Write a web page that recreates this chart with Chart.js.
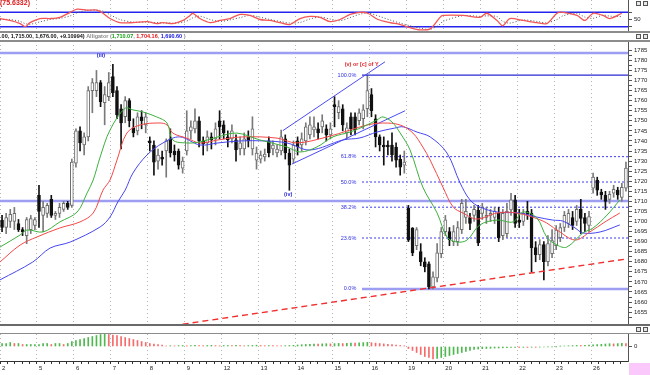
<!DOCTYPE html>
<html>
<head>
<meta charset="utf-8">
<script src="https://cdn.jsdelivr.net/npm/chart.js@4.4.0/dist/chart.umd.min.js"></script>
<style>
  html, body { margin: 0; padding: 0; background: #fff; }
  body { width: 650px; height: 375px; position: relative; overflow: hidden; }
  canvas { position: absolute; left: 0; }
  .sep { position: absolute; left: 0; width: 650px; background: #8c8c8c; }
  .btn { position: absolute; width: 5px; height: 5px; border: 1px solid #555; background: #e8e8e8; box-sizing: border-box; }
</style>
</head>
<body>
<canvas id="osc" width="650" height="32" style="top:0"></canvas>
<canvas id="main" width="650" height="292" style="top:32px"></canvas>
<canvas id="hist" width="650" height="41" style="top:334px"></canvas>

<div class="sep" style="top:31px;height:1.5px"></div>
<div class="sep" style="top:40px;height:1.5px"></div>
<div class="sep" style="top:324px;height:2px;background:#6a6a6a"></div>
<div class="sep" style="top:332.5px;height:1.5px"></div>

<div class="btn" style="left:636px;top:1px"></div><div class="btn" style="left:643px;top:1px"></div>
<div class="btn" style="left:636px;top:34px"></div><div class="btn" style="left:643px;top:34px"></div>
<div class="btn" style="left:636px;top:327px"></div><div class="btn" style="left:643px;top:327px"></div>
<div style="position:absolute;left:629px;top:363px;width:21px;height:12px;background:#fbc8fb"></div>

<script>
Chart.defaults.font.family = "'Liberation Sans', Arial, sans-serif";
Chart.defaults.font.size = 6;
Chart.defaults.animation = false;

// days on the time axis, 9 bars each
const dayLabels = ['2','5','6','7','8','9','12','13','14','15','16','19','20','21','22','23','26'];
const barsPerDay = 9;

const opens = [1700.7,1697,1700,1700,1699,1696,1693,1696,1698, 1713,1703,1704,1711,1703,1704,1706,1709,1708,
  1729,1745,1738,1742,1765,1765,1769,1759,1762, 1772,1765,1756,1752,1760,1746.5,1745,1752,1748,
  1740,1738,1730,1732,1735,1741,1735,1735,1726.5, 1735,1745,1746,1750,1740,1739,1742,1741,1750,
  1748,1742,1741,1740.5,1736,1736,1742,1736,1730.5, 1731,1732,1740,1736,1734,1735,1741,1734,1731,
  1740,1738,1740,1743,1745.5,1746,1747,1746,1743, 1758,1754,1756,1744,1752,1752,1750,1751,1756,
  1763,1751,1742,1738,1738,1738,1737,1731,1728, 1706.6,1696.7,1688,1685,1680,1679,1667.5,1672,1684,
  1695,1695,1690,1690,1696,1702,1702,1703,1705.7, 1704,1702,1703,1702,1704,1693,1694,1705.7,1710.7,
  1700.7,1700,1705,1704,1687,1683.5,1688.5,1680,1684, 1688,1692,1697,1699,1702,1700,1706,1702,1698,
  1716.6,1720.6,1714.6,1713,1711,1714,1715.6,1712,1716.6];
const highs = [1703,1704,1706,1707,1701,1697,1702,1703,1702, 1718,1710,1709,1713,1705,1709,1710,1710,1731,
  1746,1747,1744,1767,1771,1775,1770,1767,1774, 1778,1767,1758,1762,1761,1751,1754,1755,1754,
  1742,1740,1736,1735,1741,1746,1738,1736,1732, 1755,1750,1756,1752,1742,1745,1744,1749,1755,
  1750,1745,1748,1743,1742,1744,1745,1752,1737, 1735,1736,1742,1740,1738,1745.4,1743,1736,1740,
  1742,1744,1749,1752,1752,1749,1753,1748,1749, 1762,1760,1758,1749,1754,1754,1756,1758,1772.7,
  1766,1753,1743,1742,1740,1744,1739,1733,1735, 1708,1697,1697,1689,1682,1680,1675,1689,1697,
  1703,1697,1698,1700,1711,1711,1704,1708,1708, 1709,1707,1706,1707,1707,1706,1709,1714,1713,
  1706,1706,1710,1706,1690,1691,1690,1693,1696, 1698,1699,1705,1706,1705,1708,1711,1704,1705,
  1724,1722,1716,1715,1715,1718,1717,1719,1729.5];
const lows = [1695,1694,1697,1696,1695,1693,1689,1694,1696, 1697,1695,1702,1702,1701,1702,1705,1706,1707,
  1727,1735,1733,1740,1754,1762,1757,1748,1760, 1762,1751,1736,1749,1747,1742,1743,1746,1744,
  1735,1723,1726,1728,1722,1732,1730,1726,1724, 1733,1741,1744,1737,1733,1735,1736,1738,1741,
  1741,1737,1739,1730,1733,1733,1737,1733,1726, 1729,1730,1732,1733,1732,1733,1731,1715.5,1729,
  1733,1735,1738,1741,1742,1741,1744,1740,1741, 1747,1751,1745,1741,1743,1743,1748,1746,1752,
  1752,1737,1735,1728,1733,1730,1727,1723,1724, 1690,1683,1686,1678,1675,1666.5,1666.5,1670,1682,
  1693,1688,1688,1688,1694,1699,1696,1700,1688, 1701,1699,1700,1699,1690,1691,1692,1703,1697,
  1697,1698,1701,1675,1680,1681,1671,1678,1682, 1686,1690,1695,1697,1696,1698,1694,1695,1695,
  1714,1713,1711,1706,1709,1712,1711,1710,1715];
const closes = [1697,1702,1703.5,1704,1696,1695,1701,1701.5,1701, 1705,1707,1708,1703,1704,1707,1709,1707,1729.5,
  1745,1739,1742,1765,1769,1769,1759.5,1763,1769, 1764,1753,1749,1760,1750,1744,1752,1750,1752,
  1739,1729.5,1733,1731,1740,1734,1733,1728,1730, 1745,1747,1750,1740,1738.5,1742,1740.5,1746,1747,
  1744,1740.5,1745,1735.5,1739,1741,1740,1746,1734, 1733,1733.5,1734,1738,1736,1742,1734,1728,1738,
  1737,1741,1747,1748,1747,1744,1750,1743,1746, 1757,1757,1748,1746.5,1746,1745.5,1754,1755.5,1765,
  1755,1742,1738,1737,1737,1733,1730.5,1727,1729.5, 1690.7,1684.4,1696,1680,1677.5,1667.5,1672.5,1684.5,1695,
  1700.8,1691,1695,1697,1709,1705,1699,1706,1689.4, 1707,1703,1704,1705,1692,1704,1705,1710.7,1699,
  1699.5,1704,1703.5,1687,1683.5,1688.5,1680,1689,1690.5, 1695.7,1697,1703,1704,1698,1706,1701.5,1699,1702.5,
  1722,1715.6,1713.2,1710,1713.5,1716,1713.2,1717,1726.5];

// alligator lines, [bar, price]
const lips = [[-0.5,1687.3],[4.4,1693.3],[6.1,1695.8],[10,1694.8],[14.1,1699.8],[18.3,1704.7],[20.7,1714.1],
  [22.2,1720.6],[23.9,1732],[26.3,1745.4],[30,1756.3],[31.9,1755.4],[34.3,1754.4],[37.7,1751.9],[40.2,1748.9],
  [41.6,1740.5],[45,1739],[48.2,1739.5],[52.6,1742],[57.2,1743.9],[62.8,1740.5],[69.4,1737],[72.6,1734.5],
  [76.7,1737],[80.6,1742],[84.8,1744.4],[88.9,1747.9],[91.3,1750.4],[92.8,1751.9],[95,1749.4],[97,1743.9],
  [99.4,1735.5],[102.5,1717.1],[106,1704.2],[108.4,1692.3],[110.8,1689.8],[113.3,1690.8],[116.4,1698.3],
  [120.6,1700.7],[124.5,1699.8],[126.9,1704.7],[130.3,1701.7],[132.7,1692.3],[135.2,1688.3],[137.6,1687.3],
  [141.5,1694.3],[144,1696.8],[147.4,1703.2],[150.5,1710.7]];
const teeth = [[-0.5,1679.9],[4.4,1688.3],[8.5,1692.3],[14.1,1696.8],[19,1699.8],[22.2,1704.2],[24.6,1715.6],
  [26.3,1720.6],[28,1730.5],[30.4,1743.9],[33.6,1747.9],[38.5,1748.9],[40.2,1747.9],[41.6,1743.9],[45,1741.4],
  [48.2,1739],[52.6,1740.5],[58.7,1742],[67,1741.4],[71.8,1739],[79.2,1742],[84.8,1745.4],[88.9,1747.9],
  [92.8,1748.9],[97,1747.9],[100.1,1743.9],[102.5,1737],[104.3,1730.5],[107.4,1717.1],[109.9,1707.2],
  [112.3,1704.2],[115.7,1701.2],[120.6,1704.2],[125.4,1704.2],[131.8,1700.2],[135.2,1695.8],[139.6,1690.8],
  [143.2,1694.8],[146.9,1699.8],[150.5,1704.2]];
const jaw = [[-0.5,1671],[7.5,1679.9],[11.7,1686.8],[16.6,1689.8],[23.9,1697.3],[26.3,1702.2],[28.2,1709.7],
  [30,1715.6],[31.9,1724.1],[35.3,1733],[39.2,1739],[43.3,1742],[48.2,1738],[52.6,1739],[58,1740],[64,1740],
  [69.4,1739],[75,1735.5],[83.1,1740.5],[87.2,1741.5],[91.3,1744.4],[95.7,1746.4],[97.7,1747],[101.1,1744.4],
  [104.3,1742],[108.4,1734],[111.6,1719.1],[114,1710.7],[116.4,1707.2],[120.6,1704.7],[126.2,1704.2],
  [130.3,1702.2],[134.2,1700.7],[136.6,1700.2],[139.6,1696.8],[141.5,1694.3],[145.7,1694.8],[150.5,1698.3]];

const channelUpper = [[68.4,1745.1],[93.3,1779.3]];
const channelLower = [[70.6,1728.5],[98.2,1755]];
const trendLine = [[44,1649],[152.5,1681.5]];
const supportLines = [1783.7, 1710.2];

const fibLabels = ['100.0%','61.8%','50.0%','38.2%','23.6%','0.0%'];
const fibPrices = [1772.7, 1732.2, 1719.6, 1707.1, 1691.8, 1666.5];
const fibStart = 87.7;
const fibLabelAt = 86.3;

const waveNotes = [
  { text: '(iii)', x: 24.1, y: 1782.2, color: '#2727d8' },
  { text: '(iv)', x: 69.7, y: 1713.2, color: '#2727d8' },
  { text: '(v) or [c] of Y', x: 87.6, y: 1778, color: '#e42424' }
];

const priceLabels = [1785,1780,1775,1770,1765,1760,1755,1750,1745,1740,1735,1730,1725,1720,1715,1710,
  1705,1700,1695,1690,1685,1680,1675,1670,1665,1660,1655];

// oscillator (top pane), [bar, value]
const oscMain = [[-0.5,54],[1.9,46],[4.4,33],[5.6,20],[6.8,37],[9.2,54],[11.7,54],[14.1,59],[16.6,80],[18.3,93],
  [20.7,89],[23.1,89],[24.6,76],[26.3,54],[28.7,37],[31.9,37],[35.3,41],[37.7,33],[39.2,37],[41.6,33],[44.1,46],
  [45.8,67],[46.5,76],[48.2,54],[50.7,37],[53.1,46],[55.5,54],[58,71],[60.4,67],[62.8,50],[65.3,46],[67.7,37],
  [70.1,29],[72.6,54],[75,63],[77.5,59],[79.9,41],[82.3,50],[84.8,71],[87.2,80],[89.1,76],[91.6,50],[94.5,37],
  [97,29],[99.4,16],[101.8,7],[104.3,11],[106.7,59],[107.4,67],[112.3,67],[116.4,59],[118.1,76],[120.6,46],
  [122,24],[123.7,54],[126.9,46],[130.3,37],[132.7,33],[135.2,76],[136.6,80],[140.1,67],[142,46],[144,76],
  [146.4,67],[148.1,54],[151,76]];
const oscSignal = [[-0.5,50],[1.9,50],[4.4,42],[5.6,33],[6.8,30],[9.2,40],[11.7,50],[14.1,55],[16.6,65],[18.3,78],
  [20.7,88],[23.1,89],[24.6,85],[26.3,70],[28.7,50],[31.9,39],[35.3,39],[37.7,37],[39.2,36],[41.6,35],[44.1,38],
  [45.8,50],[46.5,57],[48.2,64],[50.7,50],[53.1,42],[55.5,48],[58,58],[60.4,67],[62.8,60],[65.3,50],[67.7,42],
  [70.1,35],[72.6,38],[75,52],[77.5,60],[79.9,52],[82.3,45],[84.8,58],[87.2,72],[89.1,77],[91.6,65],[94.5,48],
  [97,35],[99.4,24],[101.8,14],[104.3,9],[106.7,30],[107.4,42],[112.3,66],[116.4,63],[118.1,65],[120.6,62],
  [122,42],[123.7,35],[126.9,48],[130.3,42],[132.7,36],[135.2,50],[136.6,65],[140.1,76],[142,60],[144,55],
  [146.4,68],[148.1,64],[151,62]];
const oscLevels = [80, 20];
const oscLabels = [50];

// histogram (bottom pane), one per bar
const histValues = [3,3,4,3,3,2,2,2,2,2,3,3,2,3,3,2,3,
  5,6,7,8,9,10,11,12,12.3,
  12,11.5,11,10,9,8,7,6,5,4,3,
  2.5,2,1.5,
  0.5,0.8,0.6,0.9,1,0.7,0.9,1.2,1,0.8,1,1.2,0.9,0.7,1,
  1,0.8,1.1,0.9,0.7,0.9,1.1,1.3,1,0.8,1,0.9,0.7,0.6,0.8,1,1.2,1.5,1.8,2,2.2,
  2.5,2.3,2.6,2.8,2.6,2.9,3.1,2.9,3.2,3.5,3.3,3.6,3.9,4.2,
  3.8,3.4,3,2.6,2.2,1.8,1.4,1,0.7,
  -2,-4,-6,-8,-10,-11,-12.5,
  -12,-11,-10,-9,-8,-7,-6,-5,-4,-3,
  -2.5,-2.2,-2,-1.8,-1.6,-1.5,-1.3,-1.1,-1,-0.9,-1,-0.8,-0.9,-0.7,-0.8,
  -0.6,-0.5,-0.4,-0.3,-0.2,0.3,0.5,0.7,0.9,1.1,1,1.2,1.4,1.6,1.9,
  2.2,2.5,2.8,2.6,2.9,3.1,2.8];
const histLabels = [0];

const lastBar = opens.length - 0.5;
const pts = arr => arr.map(([x, y]) => ({ x, y }));
const flat = (y, from) => [{ x: from, y }, { x: lastBar, y }];
const isUp = i => closes[i] >= opens[i];
const isDay = v => Number.isInteger((v + 0.5) / barsPerDay);

function timeAxis() {
  return {
    type: 'linear', min: -0.5, max: lastBar, offset: false,
    grid: { color: '#b4b4b4', drawTicks: false, offset: false },
    border: { display: false, dash: [1, 3] },
    ticks: { display: false },
    afterBuildTicks: s => { s.ticks = dayLabels.map((d, k) => ({ value: k * barsPerDay - 0.5 })); },
    afterFit: s => { s.height = 0; s.paddingLeft = 0; s.paddingRight = 0; }
  };
}

function valueAxis(min, max, tickValues, labels) {
  return {
    position: 'right', min, max,
    grid: { drawOnChartArea: false, tickLength: 4, tickColor: '#555' },
    border: { color: '#555', width: 1 },
    ticks: { autoSkip: false, padding: 2, color: '#222', font: { size: 6 },
      callback: v => labels.includes(v) ? String(v) : '' },
    afterBuildTicks: s => { s.ticks = tickValues.map(v => ({ value: v })); },
    afterFit: s => { s.width = 22; s.paddingTop = 0; s.paddingBottom = 0; }
  };
}

const common = {
  responsive: false, animation: false, events: [],
  plugins: { legend: { display: false }, tooltip: { enabled: false } }
};

// ---- top oscillator
const oscText = {
  id: 'oscText',
  afterDraw(chart) {
    const ctx = chart.ctx;
    ctx.save();
    ctx.font = "bold 7px 'Liberation Sans'";
    ctx.fillStyle = '#e01818';
    ctx.textBaseline = 'top';
    ctx.fillText('(75.6332)', 0, 0);
    ctx.restore();
  }
};

new Chart(document.getElementById('osc'), {
  type: 'line',
  data: { datasets: [
    { data: pts(oscMain), borderColor: '#f25656', borderWidth: 1.3, pointRadius: 0, tension: 0.3, order: 1 },
    { data: pts(oscSignal), borderColor: '#555', borderWidth: 1, borderDash: [1, 2], pointRadius: 0, tension: 0.3, order: 2 },
    ...oscLevels.map(v => ({ data: flat(v, -0.5), borderColor: '#2424ee', borderWidth: 1.5, pointRadius: 0, order: 3 }))
  ] },
  options: { ...common,
    scales: { x: timeAxis(), y: valueAxis(-2.1, 131.25, [20, 50, 80], oscLabels) } },
  plugins: [oscText]
});

// ---- main price pane
const headerParts = [
  ['9.00, 1,715.00, 1,676.00, +9.10994) ', '#111'],
  ['Alligator (', '#8a8a8a'],
  ['1,710.07', '#14a014'],
  [', ', '#8a8a8a'],
  ['1,704.16', '#e41414'],
  [', ', '#8a8a8a'],
  ['1,690.60', '#1414e0'],
  [' )', '#8a8a8a']
];

const mainText = {
  id: 'mainText',
  afterDraw(chart) {
    const { ctx, scales: { x, y } } = chart;
    ctx.save();
    ctx.textBaseline = 'middle';

    ctx.font = "bold 5.5px 'Liberation Sans'";
    let px = -3;
    headerParts.forEach(([t, c]) => { ctx.fillStyle = c; ctx.fillText(t, px, 4.5); px += ctx.measureText(t).width; });

    ctx.font = "5.5px 'Liberation Sans'";
    ctx.textAlign = 'right';
    ctx.fillStyle = '#3030e6';
    fibLabels.forEach((t, k) => ctx.fillText(t, x.getPixelForValue(fibLabelAt), y.getPixelForValue(fibPrices[k])));

    ctx.textAlign = 'center';
    ctx.font = "bold 5.5px 'Liberation Sans'";
    waveNotes.forEach(n => { ctx.fillStyle = n.color; ctx.fillText(n.text, x.getPixelForValue(n.x), y.getPixelForValue(n.y)); });
    ctx.restore();
  }
};

const priceTicks = priceLabels.concat(priceLabels.map(v => v - 2.5));

const fibSets = fibPrices.map((p, k) => {
  if (k === 0) return { type: 'line', data: flat(p, fibStart), borderColor: '#2a2ad2', borderWidth: 1.2, pointRadius: 0, order: 4 };
  if (k === fibPrices.length - 1) return { type: 'line', data: flat(p, fibStart), borderColor: '#9d9df2', borderWidth: 2.5, pointRadius: 0, order: 11 };
  return { type: 'line', data: flat(p, fibStart), borderColor: '#3a3af0', borderWidth: 1, borderDash: [2, 2], pointRadius: 0, order: 10 };
});

new Chart(document.getElementById('main'), {
  type: 'bar',
  data: { datasets: [
    { type: 'line', data: pts(lips), borderColor: '#3cb03c', borderWidth: 1, pointRadius: 0, tension: 0.35, order: 1 },
    { type: 'line', data: pts(teeth), borderColor: '#f44848', borderWidth: 1, pointRadius: 0, tension: 0.35, order: 2 },
    { type: 'line', data: pts(jaw), borderColor: '#4646f2', borderWidth: 1, pointRadius: 0, tension: 0.35, order: 3 },
    { type: 'line', data: pts(channelUpper), borderColor: '#4a4af5', borderWidth: 1, pointRadius: 0, order: 4 },
    { type: 'line', data: pts(channelLower), borderColor: '#4a4af5', borderWidth: 1, pointRadius: 0, order: 4 },
    { type: 'line', data: pts(trendLine), borderColor: '#f03030', borderWidth: 1.4, borderDash: [6, 4], pointRadius: 0, order: 5 },
    ...fibSets,
    ...supportLines.map(p => ({ type: 'line', data: flat(p, -0.5), borderColor: '#9d9df2', borderWidth: 2.5, pointRadius: 0, order: 12 })),
    { type: 'bar', data: opens.map((o, i) => ({ x: i, y: [lows[i], highs[i]] })),
      backgroundColor: c => isUp(c.dataIndex) ? '#7a7a7a' : '#111', barThickness: 1, grouped: false, order: 8 },
    { type: 'bar', data: opens.map((o, i) => ({ x: i, y: [o, closes[i]] })),
      backgroundColor: c => isUp(c.dataIndex) ? '#fff' : '#111',
      borderColor: c => isUp(c.dataIndex) ? '#6e6e6e' : '#111',
      borderWidth: 1, borderSkipped: false, barThickness: 3, grouped: false, order: 7 }
  ] },
  options: { ...common,
    layout: { padding: { top: 9, left: 0, right: 0, bottom: 0 } },
    scales: { x: timeAxis(), y: valueAxis(1649.1, 1789.62, priceTicks, priceLabels) } },
  plugins: [mainText]
});

// ---- bottom histogram
const histAxis = timeAxis();
histAxis.ticks = { display: true, autoSkip: false, maxRotation: 0, minRotation: 0, align: 'start', labelOffset: 2,
  padding: 1, color: '#222', font: { size: 6 },
  callback: v => isDay(v) ? dayLabels[(v + 0.5) / barsPerDay] : '' };
histAxis.grid = { color: c => (c.tick && isDay(c.tick.value)) ? '#b4b4b4' : 'rgba(0,0,0,0)',
  drawTicks: true, tickLength: 3, tickColor: '#333', offset: false };
histAxis.border = { display: true, color: '#333', width: 1, dash: [1, 3] };
histAxis.afterBuildTicks = s => {
  const t = [];
  dayLabels.forEach((d, k) => { for (let j = 0; j < 5; j++) t.push({ value: k * barsPerDay - 0.5 + j * barsPerDay / 5 }); });
  s.ticks = t;
};
histAxis.afterFit = s => { s.height = 14; s.paddingLeft = 0; s.paddingRight = 0; };

new Chart(document.getElementById('hist'), {
  type: 'bar',
  data: { datasets: [
    { data: histValues.map((v, i) => ({ x: i, y: v })), barThickness: 1, grouped: false,
      backgroundColor: c => (c.dataIndex === 0 || histValues[c.dataIndex] >= histValues[c.dataIndex - 1]) ? '#4db84d' : '#f66a6a' }
  ] },
  options: { ...common,
    scales: { x: histAxis, y: valueAxis(-14.5, 12.5, [0], histLabels) } }
});
</script>
</body>
</html>
